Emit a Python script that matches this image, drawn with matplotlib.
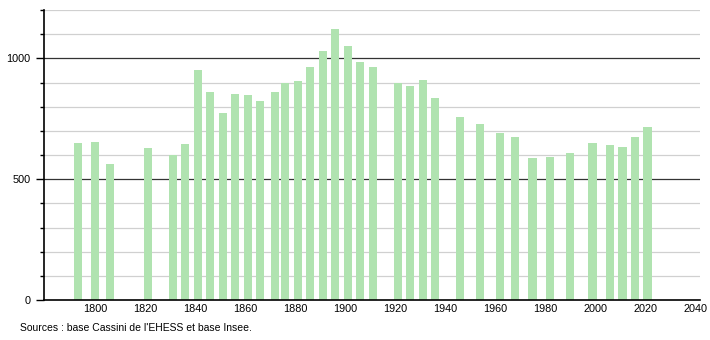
import matplotlib
matplotlib.use("Agg")
import matplotlib.pyplot as plt
from matplotlib.ticker import MultipleLocator, FixedLocator

plt.rcParams["font.family"] = ["Liberation Sans", "DejaVu Sans"]

years = [1793, 1800, 1806, 1821, 1831, 1836, 1841, 1846, 1851, 1856, 1861, 1866,
         1872, 1876, 1881, 1886, 1891, 1896, 1901, 1906, 1911, 1921, 1926, 1931,
         1936, 1946, 1954, 1962, 1968, 1975, 1982, 1990, 1999, 2006, 2011, 2016, 2021]
population = [651, 655, 561, 627, 601, 644, 950, 859, 773, 852, 848, 823,
              859, 899, 905, 965, 1032, 1122, 1050, 985, 965, 900, 884, 910,
              835, 756, 727, 692, 673, 586, 590, 607, 651, 640, 633, 674, 715]
x_ticks = [1800, 1820, 1840, 1860, 1880, 1900, 1920, 1940, 1960, 1980, 2000, 2020, 2040]
source_text = "Sources : base Cassini de l'EHESS et base Insee."

fig = plt.figure(figsize=(7.1, 3.4), dpi=100)
ax = fig.add_axes([44.3/710, 40/340, (700-44.3)/710, 290/340])

ax.bar(years, population, width=3.3, color="#b0e3b0", zorder=2, linewidth=0)

ax.set_xlim(1779.6, 2042)
ax.set_ylim(0, 1200)

for v in range(100, 1201, 100):
    if v % 500 == 0:
        ax.axhline(v, color="#333333", linewidth=0.9, zorder=1)
    else:
        ax.axhline(v, color="#d0d0d0", linewidth=0.9, zorder=1)

ax.yaxis.set_major_locator(FixedLocator([0, 500, 1000]))
ax.yaxis.set_minor_locator(MultipleLocator(100))
ax.tick_params(axis="y", which="major", length=6, width=1, labelsize=7.8, pad=4, colors="black")
ax.tick_params(axis="y", which="minor", length=3, width=1)
ax.set_xticks(x_ticks)
ax.tick_params(axis="x", which="both", length=0, labelsize=7.8, pad=3)

for s in ["top", "right"]:
    ax.spines[s].set_visible(False)
ax.spines["left"].set_linewidth(1.2)
ax.spines["bottom"].set_linewidth(1.2)

fig.text(20/710, 1 - 328/340, source_text, fontsize=7.5, va="center", ha="left")

fig.savefig("out.png", dpi=100)
